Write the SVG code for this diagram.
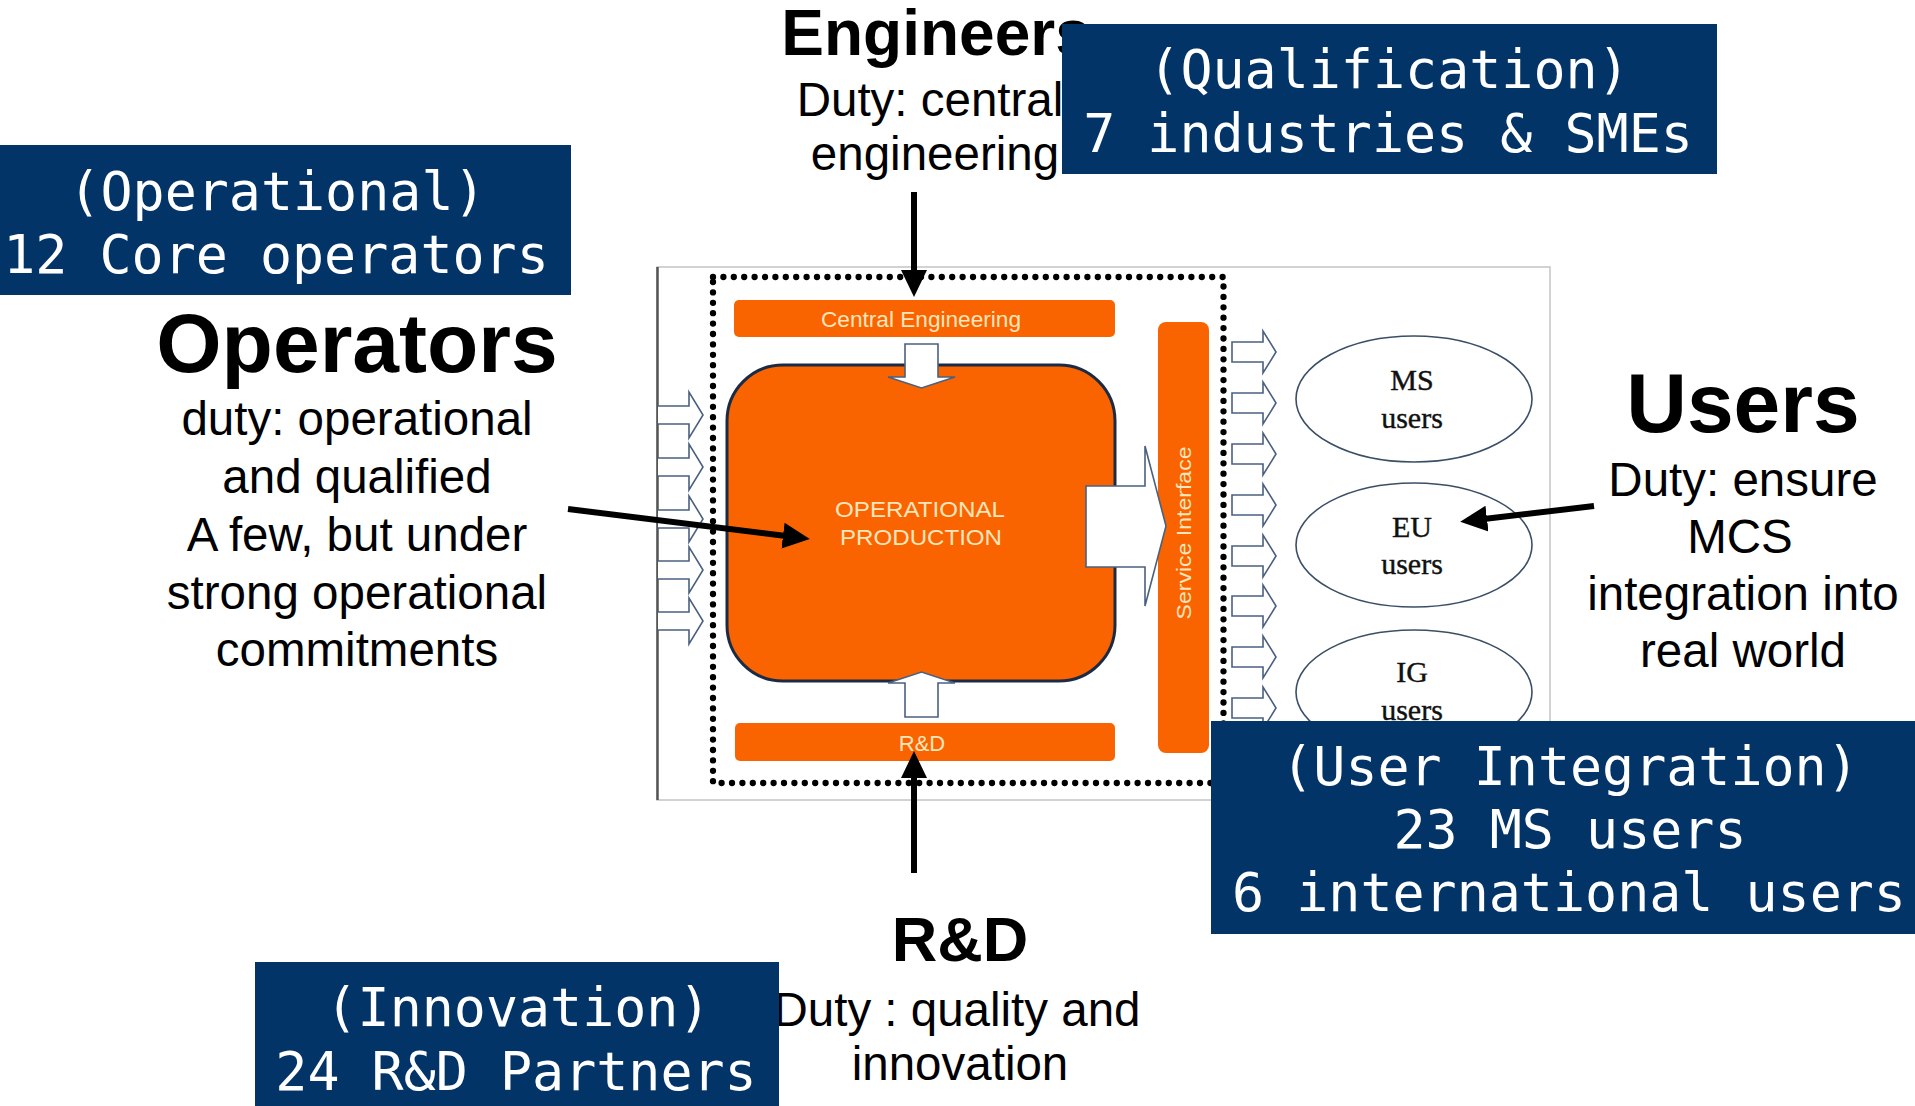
<svg xmlns="http://www.w3.org/2000/svg" width="1915" height="1106" viewBox="0 0 1915 1106">
<style>
.blk{font-family:"Liberation Sans",Arial,sans-serif;fill:#000;text-anchor:middle}
.ttl{font-weight:bold}
.body{font-size:47.5px}
.mono{font-family:"DejaVu Sans Mono",monospace;font-size:53.3px;fill:#fff;text-anchor:middle}
.bluebox{fill:#033468}
.orange{fill:#FA6400}
.cream{font-family:"Liberation Sans",Arial,sans-serif;fill:#FFE6BC;text-anchor:middle}
.blockarrow{fill:#fff;stroke:#4A6080;stroke-width:1.6;stroke-linejoin:miter}
.ell{fill:#fff;stroke:#3A4F66;stroke-width:1.6}
.serif{font-family:"Liberation Serif","Times New Roman",serif;font-size:30px;fill:#111;text-anchor:middle;stroke:#111;stroke-width:0.4}
.conn{stroke:#000;stroke-width:6;fill:none}
</style>
<defs>
<marker id="ah" markerUnits="userSpaceOnUse" markerWidth="30" markerHeight="30" viewBox="0 -15 30 30" refX="1" refY="0" orient="auto">
<path d="M0,-13 L27,0 L0,13 z" fill="#000"/>
</marker>
</defs>
<rect width="1915" height="1106" fill="#fff"/>

<g id="frame">
<rect x="657" y="267" width="893" height="533" fill="#fff" stroke="#c4c4c4" stroke-width="1.5"/>
<line x1="657.5" y1="267" x2="657.5" y2="800" stroke="#555" stroke-width="2.5"/>
<rect x="713" y="277" width="510.5" height="506" fill="none" stroke="#000" stroke-width="6.3" stroke-linecap="round" stroke-dasharray="0 10.4"/>
</g>

<g id="input-arrows">
<path class="blockarrow" d="M658,406 L689,406 L689,392 L703,415 L689,438 L689,424 L658,424"/>
<path class="blockarrow" d="M658,458 L689,458 L689,444 L703,467 L689,490 L689,476 L658,476"/>
<path class="blockarrow" d="M658,510 L689,510 L689,496 L703,519 L689,542 L689,528 L658,528"/>
<path class="blockarrow" d="M658,561 L689,561 L689,547 L703,570 L689,593 L689,579 L658,579"/>
<path class="blockarrow" d="M658,612 L689,612 L689,598 L703,621 L689,644 L689,630 L658,630"/>
</g>

<g id="central-engineering">
<rect class="orange" x="734" y="300" width="381" height="37" rx="5"/>
<text class="cream" x="921" y="327" font-size="22" textLength="200" lengthAdjust="spacingAndGlyphs">Central Engineering</text>
</g>

<g id="operational-production">
<rect class="orange" x="727" y="365" width="388" height="316" rx="56" stroke="#1C2B45" stroke-width="3"/>
<text class="cream" x="920" y="517" font-size="22" textLength="170" lengthAdjust="spacingAndGlyphs">OPERATIONAL</text>
<text class="cream" x="921" y="545" font-size="22" textLength="162" lengthAdjust="spacingAndGlyphs">PRODUCTION</text>
</g>

<g id="rnd-bar">
<rect class="orange" x="735" y="723" width="380" height="38" rx="5"/>
<text class="cream" x="922" y="751" font-size="22">R&amp;D</text>
</g>

<g id="service-interface">
<rect class="orange" x="1158" y="322" width="51" height="431" rx="8"/>
<text class="cream" transform="translate(1191,533) rotate(-90)" x="0" y="0" font-size="21" textLength="173" lengthAdjust="spacingAndGlyphs">Service Interface</text>
</g>

<g id="internal-arrows">
<path class="blockarrow" d="M905,344 L938,344 L938,377 L955,377 L921.5,388 L888,377 L905,377 Z"/>
<path class="blockarrow" d="M905,717 L938,717 L938,683 L955,683 L921.5,672 L888,683 L905,683 Z"/>
<path class="blockarrow" d="M1086,486 L1145,486 L1145,446 L1166,526 L1145,606 L1145,567 L1086,567 Z"/>
</g>

<g id="output-arrows">
<path class="blockarrow" d="M1232,342 L1263,342 L1263,331 L1276,352 L1263,373 L1263,362 L1232,362 Z"/>
<path class="blockarrow" d="M1232,393 L1263,393 L1263,382 L1276,403 L1263,424 L1263,413 L1232,413 Z"/>
<path class="blockarrow" d="M1232,444 L1263,444 L1263,433 L1276,454 L1263,475 L1263,464 L1232,464 Z"/>
<path class="blockarrow" d="M1232,495 L1263,495 L1263,484 L1276,505 L1263,526 L1263,515 L1232,515 Z"/>
<path class="blockarrow" d="M1232,546 L1263,546 L1263,535 L1276,556 L1263,577 L1263,566 L1232,566 Z"/>
<path class="blockarrow" d="M1232,596 L1263,596 L1263,585 L1276,606 L1263,627 L1263,616 L1232,616 Z"/>
<path class="blockarrow" d="M1232,647 L1263,647 L1263,636 L1276,657 L1263,678 L1263,667 L1232,667 Z"/>
<path class="blockarrow" d="M1232,698 L1263,698 L1263,687 L1276,708 L1263,729 L1263,718 L1232,718 Z"/>
</g>

<g id="ms-users">
<ellipse class="ell" cx="1414" cy="399" rx="118" ry="63"/>
<text class="serif" x="1412" y="390">MS</text>
<text class="serif" x="1412" y="428">users</text>
</g>
<g id="eu-users">
<ellipse class="ell" cx="1414" cy="545" rx="118" ry="62"/>
<text class="serif" x="1412" y="537">EU</text>
<text class="serif" x="1412" y="574">users</text>
</g>
<g id="ig-users">
<ellipse class="ell" cx="1414" cy="692" rx="118" ry="62"/>
<text class="serif" x="1412" y="682">IG</text>
<text class="serif" x="1412" y="720">users</text>
</g>

<g id="engineers-label">
<text class="blk ttl" x="936" y="55" font-size="64">Engineers</text>
<text class="blk body" x="930" y="116">Duty: central</text>
<text class="blk body" x="935" y="170">engineering</text>
</g>

<g id="operators-label">
<text class="blk ttl" x="357" y="372" font-size="84">Operators</text>
<text class="blk body" x="357" y="435">duty: operational</text>
<text class="blk body" x="357" y="493">and qualified</text>
<text class="blk body" x="357" y="551">A few, but under</text>
<text class="blk body" x="357" y="609">strong operational</text>
<text class="blk body" x="357" y="666">commitments</text>
</g>

<g id="users-label">
<text class="blk ttl" x="1743" y="432" font-size="84">Users</text>
<text class="blk body" x="1743" y="496">Duty: ensure</text>
<text class="blk body" x="1740" y="553">MCS</text>
<text class="blk body" x="1743" y="610">integration into</text>
<text class="blk body" x="1743" y="667">real world</text>
</g>

<g id="rnd-label">
<text class="blk ttl" x="960" y="961" font-size="63">R&amp;D</text>
<text class="blk body" x="957" y="1026">Duty : quality and</text>
<text class="blk body" x="960" y="1080">innovation</text>
</g>

<g id="connectors">
<line class="conn" x1="914" y1="192" x2="914" y2="271" marker-end="url(#ah)"/>
<line class="conn" x1="914" y1="873" x2="914" y2="777" marker-end="url(#ah)"/>
<line class="conn" x1="568" y1="509" x2="784" y2="535.7" marker-end="url(#ah)"/>
<line class="conn" x1="1594" y1="506" x2="1486" y2="518.8" marker-end="url(#ah)"/>
</g>

<g id="operational-box">
<rect class="bluebox" x="0" y="145" width="571" height="150"/>
<text class="mono" x="277" y="210">(Operational)</text>
<text class="mono" x="276" y="273">12 Core operators</text>
</g>
<g id="qualification-box">
<rect class="bluebox" x="1062" y="24" width="655" height="150"/>
<text class="mono" x="1389" y="88">(Qualification)</text>
<text class="mono" x="1388" y="152">7 industries &amp; SMEs</text>
</g>
<g id="user-integration-box">
<rect class="bluebox" x="1211" y="721" width="720" height="213"/>
<text class="mono" x="1570" y="785">(User Integration)</text>
<text class="mono" x="1570" y="848">23 MS users</text>
<text class="mono" x="1569" y="911">6 international users</text>
</g>
<g id="innovation-box">
<rect class="bluebox" x="255" y="962" width="524" height="150"/>
<text class="mono" x="518" y="1026">(Innovation)</text>
<text class="mono" x="516" y="1090">24 R&amp;D Partners</text>
</g>
</svg>
